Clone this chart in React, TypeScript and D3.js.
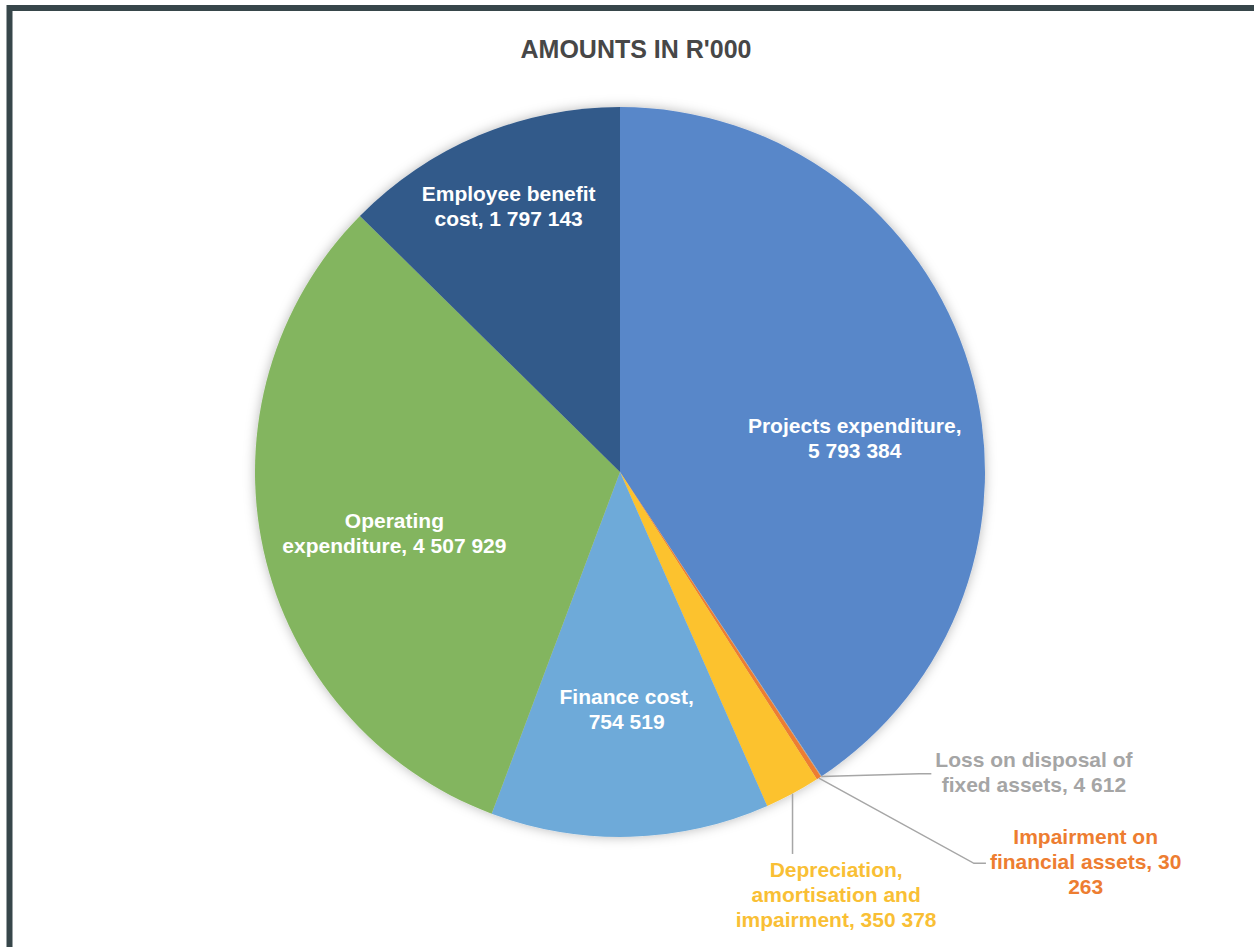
import { useEffect, useRef } from "react";
import * as d3 from "d3";

// chart data (values in R'000)
const categories = [
  "Projects expenditure",
  "Loss on disposal of fixed assets",
  "Impairment on financial assets",
  "Depreciation, amortisation and impairment",
  "Finance cost",
  "Operating expenditure",
  "Employee benefit cost",
];
// slice sizes as drawn in the reference (finance cost slice is drawn ~1.75m even though its label reads 754 519)
const values = [5793384, 4612, 30263, 350378, 1754519, 4507929, 1797143];
// label texts exactly as printed in the reference
const labelLines = [
  ["Projects expenditure,", "5 793 384"],
  ["Loss on disposal of", "fixed assets, 4 612"],
  ["Impairment on", "financial assets, 30", "263"],
  ["Depreciation,", "amortisation and", "impairment, 350 378"],
  ["Finance cost,", "754 519"],
  ["Operating", "expenditure, 4 507 929"],
  ["Employee benefit", "cost, 1 797 143"],
];
const colors = ["#5987c9", "#a5a5a5", "#ed7d31", "#fcc22d", "#6eaad9", "#83b55e", "#335a8a"];
const labelColors = ["#fff", "#a5a5a5", "#ed7d31", "#f9bf35", "#fff", "#fff", "#fff"];
const title = "AMOUNTS IN R'000";

// label placement (layout only)
// inside: radial factor + angle nudge in degrees; outside: polar position + leader side
const labelLayout: any[] = [
  { inside: true, k: 0.65, da: 8.4 },
  { inside: false, angle: 125.9, k: 1.4, attach: "left" },
  { inside: false, angle: 129.9, k: 1.663, attach: "left" },
  { inside: false, angle: 152.9, k: 1.3, attach: "top" },
  { inside: true, k: 0.65, da: 0 },
  { inside: true, k: 0.64, da: -2.6 },
  { inside: true, k: 0.79, da: 0 },
];

const width = 1254;
const height = 947;
const cx = 620;
const cy = 472;
const radius = 365;
const fontSize = 21;
const lineHeight = 25;
const font = "'Liberation Sans', Arial, sans-serif";

export default function App() {
  const ref = useRef<SVGSVGElement>(null);

  useEffect(() => {
    const svg = d3.select(ref.current);
    svg.selectAll("*").remove();

    const defs = svg.append("defs");
    const f = defs
      .append("filter")
      .attr("id", "pie-shadow")
      .attr("x", "-10%")
      .attr("y", "-10%")
      .attr("width", "120%")
      .attr("height", "120%");
    f.append("feDropShadow")
      .attr("dx", 0)
      .attr("dy", 0)
      .attr("stdDeviation", 6)
      .attr("flood-color", "#000")
      .attr("flood-opacity", 0.28);

    svg.append("rect").attr("width", width).attr("height", height).attr("fill", "#fff");

    // dark frame (only top and left edges fall inside the picture)
    svg
      .append("rect")
      .attr("x", 9.5)
      .attr("y", 8)
      .attr("width", width + 20)
      .attr("height", height + 20)
      .attr("fill", "none")
      .attr("stroke", "#37464a")
      .attr("stroke-width", 6);

    svg
      .append("text")
      .attr("x", 636)
      .attr("y", 58)
      .attr("text-anchor", "middle")
      .attr("font-family", font)
      .attr("font-weight", "bold")
      .attr("font-size", 25)
      .attr("fill", "#474747")
      .text(title);

    const pie = d3
      .pie<number>()
      .sort(null)
      .value((d) => d);
    const arcs = pie(values);
    const arc = d3.arc<d3.PieArcDatum<number>>().innerRadius(0).outerRadius(radius);

    const g = svg.append("g").attr("transform", `translate(${cx},${cy})`);

    g.append("g")
      .attr("filter", "url(#pie-shadow)")
      .selectAll("path")
      .data(arcs)
      .join("path")
      .attr("d", arc)
      .attr("fill", (_, i) => colors[i]);

    const polar = (angleDeg: number, r: number) => {
      const a = (angleDeg * Math.PI) / 180;
      return [r * Math.sin(a), -r * Math.cos(a)];
    };

    const drawLabel = (x: number, y: number, lines: string[], fill: string) => {
      const t = g
        .append("text")
        .attr("text-anchor", "middle")
        .attr("font-family", font)
        .attr("font-weight", "bold")
        .attr("font-size", fontSize)
        .attr("fill", fill);
      lines.forEach((line, j) => {
        t.append("tspan")
          .attr("x", x)
          .attr("y", y + (j - (lines.length - 1) / 2) * lineHeight + fontSize * 0.36)
          .text(line);
      });
      return t;
    };

    arcs.forEach((a, i) => {
      const lay = labelLayout[i];
      const mid = ((a.startAngle + a.endAngle) / 2) * (180 / Math.PI);
      if (lay.inside) {
        const [x, y] = polar(mid + lay.da, radius * lay.k);
        drawLabel(x, y, labelLines[i], labelColors[i]);
      } else {
        const [lx, ly] = polar(lay.angle, radius * lay.k);
        const t = drawLabel(lx, ly, labelLines[i], labelColors[i]);
        const bb = (t.node() as SVGTextElement).getBBox();
        const [ex, ey] = polar(mid, radius);
        let pts: [number, number][];
        if (lay.attach === "left") {
          const endX = bb.x - 4;
          pts = [
            [ex, ey],
            [endX - 12, ly + 2],
            [endX, ly + 2],
          ];
        } else {
          pts = [
            [ex, ey],
            [ex, bb.y - 4],
          ];
        }
        g.insert("path", "text")
          .attr("d", d3.line()(pts))
          .attr("fill", "none")
          .attr("stroke", "#a6a6a6")
          .attr("stroke-width", 1.5);
      }
    });
  }, []);

  return (
    <div style={{ position: "absolute", left: 0, top: 0 }}>
      <svg ref={ref} width={width} height={height} style={{ display: "block" }} />
    </div>
  );
}
